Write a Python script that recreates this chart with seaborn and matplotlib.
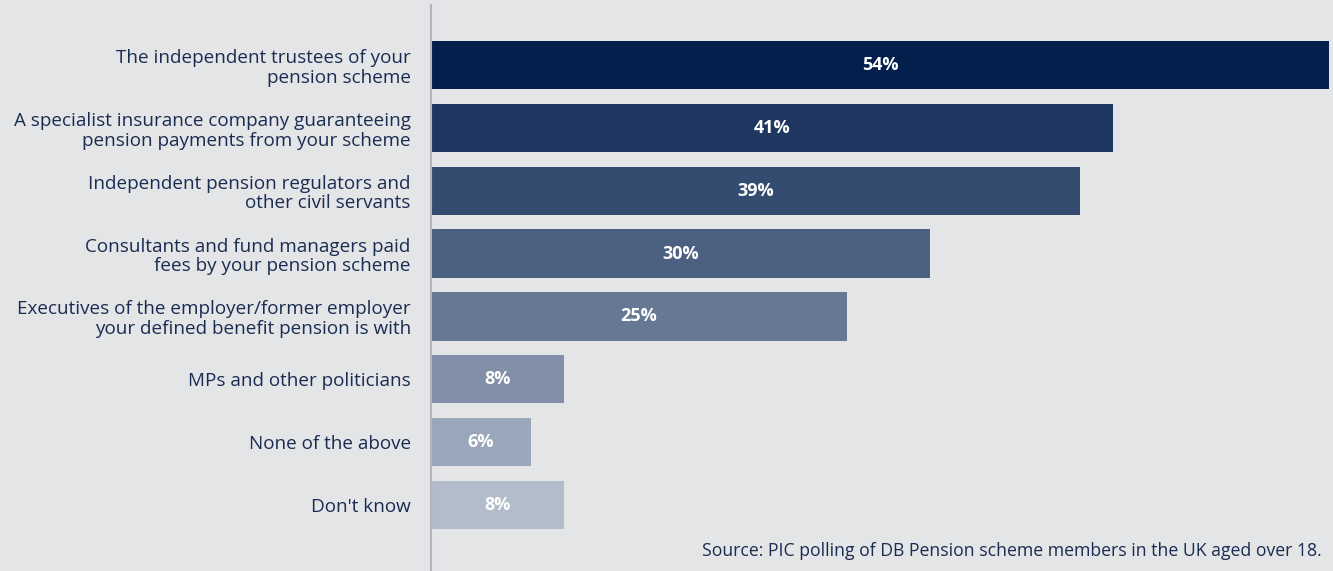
import matplotlib
matplotlib.use("Agg")
import matplotlib.pyplot as plt
import seaborn as sns
import pandas as pd

categories = [
    "The independent trustees of your\npension scheme",
    "A specialist insurance company guaranteeing\npension payments from your scheme",
    "Independent pension regulators and\nother civil servants",
    "Consultants and fund managers paid\nfees by your pension scheme",
    "Executives of the employer/former employer\nyour defined benefit pension is with",
    "MPs and other politicians",
    "None of the above",
    "Don't know",
]
values = [54, 41, 39, 30, 25, 8, 6, 8]
colors = ["#02204b", "#1e3660", "#344c70", "#4c6081", "#667893", "#8190a8", "#9aa6b9", "#b3bccb"]
source = "Source: PIC polling of DB Pension scheme members in the UK aged over 18."

bg = "#e4e5e7"
text_color = "#1b2c52"

sns.set_theme(style="white")
plt.rcParams["font.family"] = ["Open Sans", "DejaVu Sans"]

df = pd.DataFrame({"category": categories, "value": values})

fig = plt.figure(figsize=(13.33, 5.71), dpi=100, facecolor=bg)
W, H = 1333, 571
ax = fig.add_axes([431 / W, 0, (W - 431) / W, (571 - 5) / H])
ax.set_facecolor(bg)

sns.barplot(data=df, y="category", x="value", hue="category", palette=colors,
            orient="h", width=0.77, legend=False, ax=ax, saturation=1,
            linewidth=0, edgecolor="none")

px_per = 16.63
ax.set_xlim(0, (W - 431) / px_per)
ax.set_ylim(8.05, -0.955)

for i, v in enumerate(values):
    ax.text(v / 2, i, f"{v}%", ha="center", va="center", color="white",
            fontsize=13, fontweight="bold")

ax.set_xlabel("")
ax.set_ylabel("")
ax.set_xticks([])
ax.tick_params(axis="y", length=0, pad=14.5)
for lab in ax.get_yticklabels():
    lab.set_fontsize(13.6)
    lab.set_color(text_color)
    lab.set_multialignment("right")
    lab.set_linespacing(1.12)

for s in ["top", "right", "bottom"]:
    ax.spines[s].set_visible(False)
ax.spines["left"].set_color("#b5b6b9")
ax.spines["left"].set_linewidth(1.5)

fig.text(1322 / W, 1 - 551 / H, source, ha="right", va="center",
         fontsize=12.7, color=text_color)

fig.savefig("out.png", dpi=100, facecolor=bg)
